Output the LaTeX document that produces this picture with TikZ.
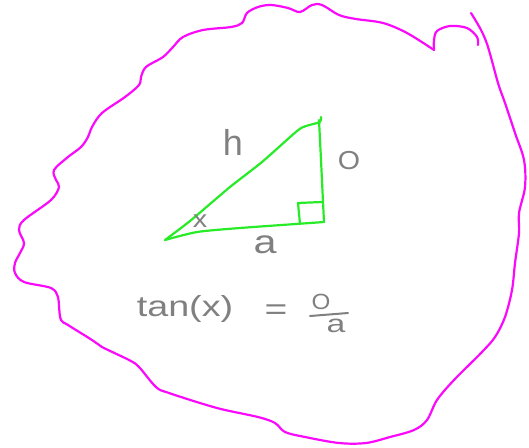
\documentclass[tikz,border=0pt]{standalone}
\usepackage{fontspec}
\setmainfont{Liberation Sans}
\definecolor{pen}{RGB}{250,10,250}
\definecolor{tri}{RGB}{40,235,40}
\definecolor{ink}{RGB}{128,128,128}
\tikzset{
  outline/.style={draw=pen, line width=2.2pt, line cap=round, line join=round},
  trianglepen/.style={draw=tri, line width=2.2pt, line cap=round, line join=round},
  label/.style={text=ink, inner sep=0pt, anchor=center},
}
\begin{document}
\begin{tikzpicture}[x=1pt,y=-1pt]
\useasboundingbox (0,0) rectangle (529,447);
% outline
\draw[outline] plot[smooth, tension=0.55] coordinates {(478,45) (477,37) (467,28) (450,26) (437,31) (434,40) (434,50)};
\draw[outline] plot[smooth, tension=0.55] coordinates {
(434,50) (407,33) (383,23) (356,19) (339,15) (322,5) (312,5) (300,12) (288,8) (271,5) (258,7) (247,13) (242,23) (231,27) (203,30) (183,37) (173,47) (163,57) (146,67) (141,77) (139,85) (125,97) (102,113) (92,127) (88,137) (81,147) (68,157) (54,170) (56,180) (59,187) (51,200) (24,220) (19,230) (24,243) (20,253) (15,263) (15,273) (24,282) (51,288) (58,297) (59,307) (61,320) (68,325) (92,340) (102,347) (129,360) (139,367) (156,387) (169,393) (217,408) (258,417) (275,423) (285,432) (305,437) (339,443) (366,443) (390,437) (414,430) (427,420) (437,400) (454,380) (481,353) (495,337) (505,317) (512,290) (515,263) (519,233) (519,213) (525,187) (524,160) (515,133) (505,103) (498,83) (488,47) (481,30) (471,13)};
% triangle
\coordinate (A) at (165,240);
\coordinate (B) at (321,117);
\coordinate (C) at (324,222);
\draw[trianglepen] plot[smooth, tension=0.4] coordinates {(A) (190,221) (230,187) (262,162) (297,131) (306,126) (320,122) (B)};
\draw[trianglepen] plot[smooth, tension=0.4] coordinates {(319,120) (321,160) (323,202) (C)};
\draw[trianglepen] plot[smooth, tension=0.4] coordinates {(C) (310,223) (240,228) (197,232) (A)};
\draw[trianglepen] (300,224) -- (298,203) -- (322,202);
% labels
\node[label, font=\fontsize{36}{36}\selectfont] (h) at (233,142) {h};
\node[label, font=\fontsize{26}{26}\selectfont, xscale=1.1, transform shape] (o) at (349,161) {O};
\node[label, font=\fontsize{24}{24}\selectfont, xscale=1.2, transform shape] (x) at (200,221) {x};
\node[label, font=\fontsize{33}{33}\selectfont, xscale=1.25, transform shape] (a) at (265,245) {a};
\node[label, font=\fontsize{29}{29}\selectfont, xscale=1.3, transform shape] (tan) at (185,309) {tan(x)};
\node[label, font=\fontsize{30}{30}\selectfont, xscale=1.3, transform shape] (eq) at (276,312) {=};
\node[label, font=\fontsize{22}{22}\selectfont, xscale=1.1, transform shape] (num) at (321,302) {O};
\node[label, font=\fontsize{25}{25}\selectfont, xscale=1.35, transform shape] (den) at (336,326) {a};
\coordinate (bl) at (310,316);
\coordinate (br) at (348,313);
\draw[draw=ink, line width=2pt, line cap=round] (bl) -- (br);
\end{tikzpicture}
\end{document}
